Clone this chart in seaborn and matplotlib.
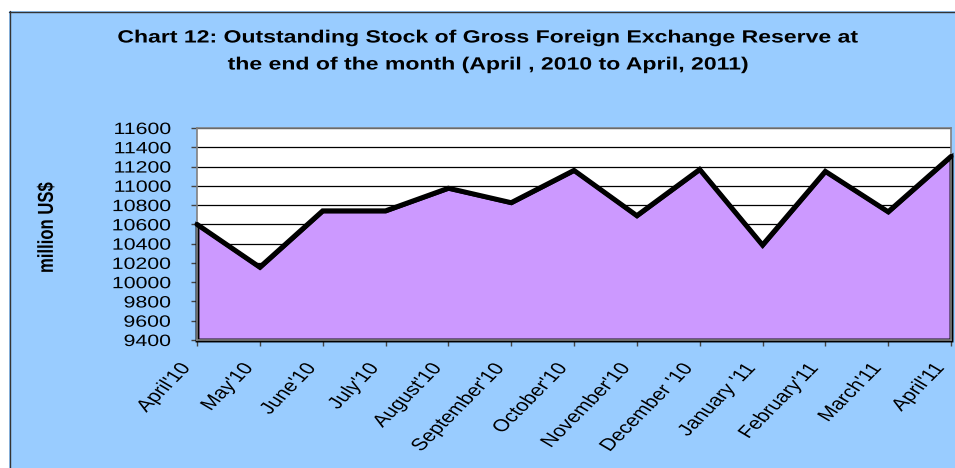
import numpy as np
import matplotlib
matplotlib.use("Agg")
import matplotlib.pyplot as plt
import seaborn as sns
from matplotlib.patches import Rectangle
from matplotlib.lines import Line2D
from matplotlib.patheffects import AbstractPathEffect
from matplotlib.transforms import Affine2D, ScaledTranslation

months = ["April'10", "May'10", "June'10", "July'10", "August'10", "September'10",
          "October'10", "November'10", "December '10", "January '11", "February'11",
          "March'11", "April'11"]
reserves = [10600, 10155, 10740, 10740, 10975, 10825, 11160, 10690, 11170,
            10385, 11150, 10730, 11305]
y_ticks = list(range(9400, 11601, 200))

title_line1 = "Chart 12: Outstanding Stock of Gross Foreign Exchange Reserve at"
title_line2 = "the end of the month (April , 2010 to April, 2011)"
y_label = "million US$"

SX = 1.3  # the reference's text is drawn wider than it is tall


class HStretch(AbstractPathEffect):
    """Stretch text horizontally about a fixed x (in pixels)."""

    def __init__(self, sx, cx):
        super().__init__()
        self.sx = sx
        self.cx = cx

    def draw_path(self, renderer, gc, tpath, affine, rgbFace=None):
        aff = affine + Affine2D().translate(-self.cx, 0).scale(self.sx, 1).translate(self.cx, 0)
        renderer.draw_path(gc, tpath, aff, rgbFace)


sns.set_theme(style="white")
plt.rcParams['font.family'] = ['Liberation Sans', 'DejaVu Sans']
plt.rcParams['text.color'] = 'black'

W, H = 955, 468
fig = plt.figure(figsize=(W / 100, H / 100), dpi=100)
bg = "#99CCFF"
fig.patch.set_facecolor(bg)
# white strips outside the chart frame (top and left), then the frame lines
fig.patches.append(Rectangle((0, 1 - 11 / H), 1, 11 / H, transform=fig.transFigure,
                             facecolor="white", edgecolor="none", zorder=-1))
fig.patches.append(Rectangle((0, 0), 9 / W, 1, transform=fig.transFigure,
                             facecolor="white", edgecolor="none", zorder=-1))
fig.lines.append(Line2D([9.5 / W, 9.5 / W], [0, 1 - 11 / H], transform=fig.transFigure,
                        color="#333333", lw=1.0))
fig.lines.append(Line2D([9 / W, 1], [1 - 11.5 / H, 1 - 11.5 / H], transform=fig.transFigure,
                        color="#333333", lw=1.0))

L, R, T, B = 197, 951, 128, 340
ax = fig.add_axes([L / W, 1 - B / H, (R - L) / W, (B - T) / H])
ax.set_facecolor("white")
x = np.arange(len(months))

ax.fill_between(x, reserves, 9400, facecolor="#CC99FF", edgecolor="black",
                linewidth=2.8, joinstyle="miter", clip_on=False, zorder=2)
sns.lineplot(x=x, y=reserves, ax=ax, color="black", linewidth=3.6, zorder=3,
             clip_on=False)
ax.lines[-1].set_solid_joinstyle("miter")

ax.set_xlim(0, len(months) - 1)
ax.set_ylim(9400, 11600)
ax.set_yticks(y_ticks)
ax.set_yticklabels([str(v) for v in y_ticks], fontsize=11.8)
ax.set_xticks(x)
ax.set_xticklabels(months, fontsize=12.3, rotation=52.4,
                   ha="right", va="top", rotation_mode="anchor")
ax.set_axisbelow(True)
ax.yaxis.grid(True, color="black", linewidth=0.9)
ax.xaxis.grid(False)
for s in ax.spines.values():
    s.set_color("#808080")
    s.set_linewidth(1.2)
ax.tick_params(axis="y", which="both", left=True, length=4.3, width=1, color="#444444",
               pad=14.4, labelcolor="black")
ax.tick_params(axis="x", which="both", bottom=True, length=4.3, width=1, color="#444444",
               pad=10.5, labelcolor="black")
ax.set_xlabel("")
ax.set_ylabel("")

ytick_right = L - 6 - 20
for lbl in ax.get_yticklabels():
    lbl.set_path_effects([HStretch(SX, ytick_right)])

shift = ScaledTranslation(-18 / 100, 0, fig.dpi_scale_trans)
for i, lbl in enumerate(ax.get_xticklabels()):
    lbl.set_transform(lbl.get_transform() + shift)
    cx = L + i * (R - L) / (len(months) - 1) - 18
    lbl.set_path_effects([HStretch(SX, cx)])

t1 = fig.text(489.5 / W, 1 - 38 / H, title_line1, ha="center", va="center",
              fontsize=12.75, fontweight="bold")
t2 = fig.text(489.5 / W, 1 - 65 / H, title_line2, ha="center", va="center",
              fontsize=12.75, fontweight="bold")
for t in (t1, t2):
    t.set_path_effects([HStretch(SX, 489.5)])
yl = fig.text(47 / W, 1 - 228 / H, y_label, ha="center", va="center", rotation=90,
              fontsize=12, fontweight="bold")
yl.set_path_effects([HStretch(SX, 47)])

fig.savefig("out.png", dpi=100, facecolor=fig.get_facecolor())
